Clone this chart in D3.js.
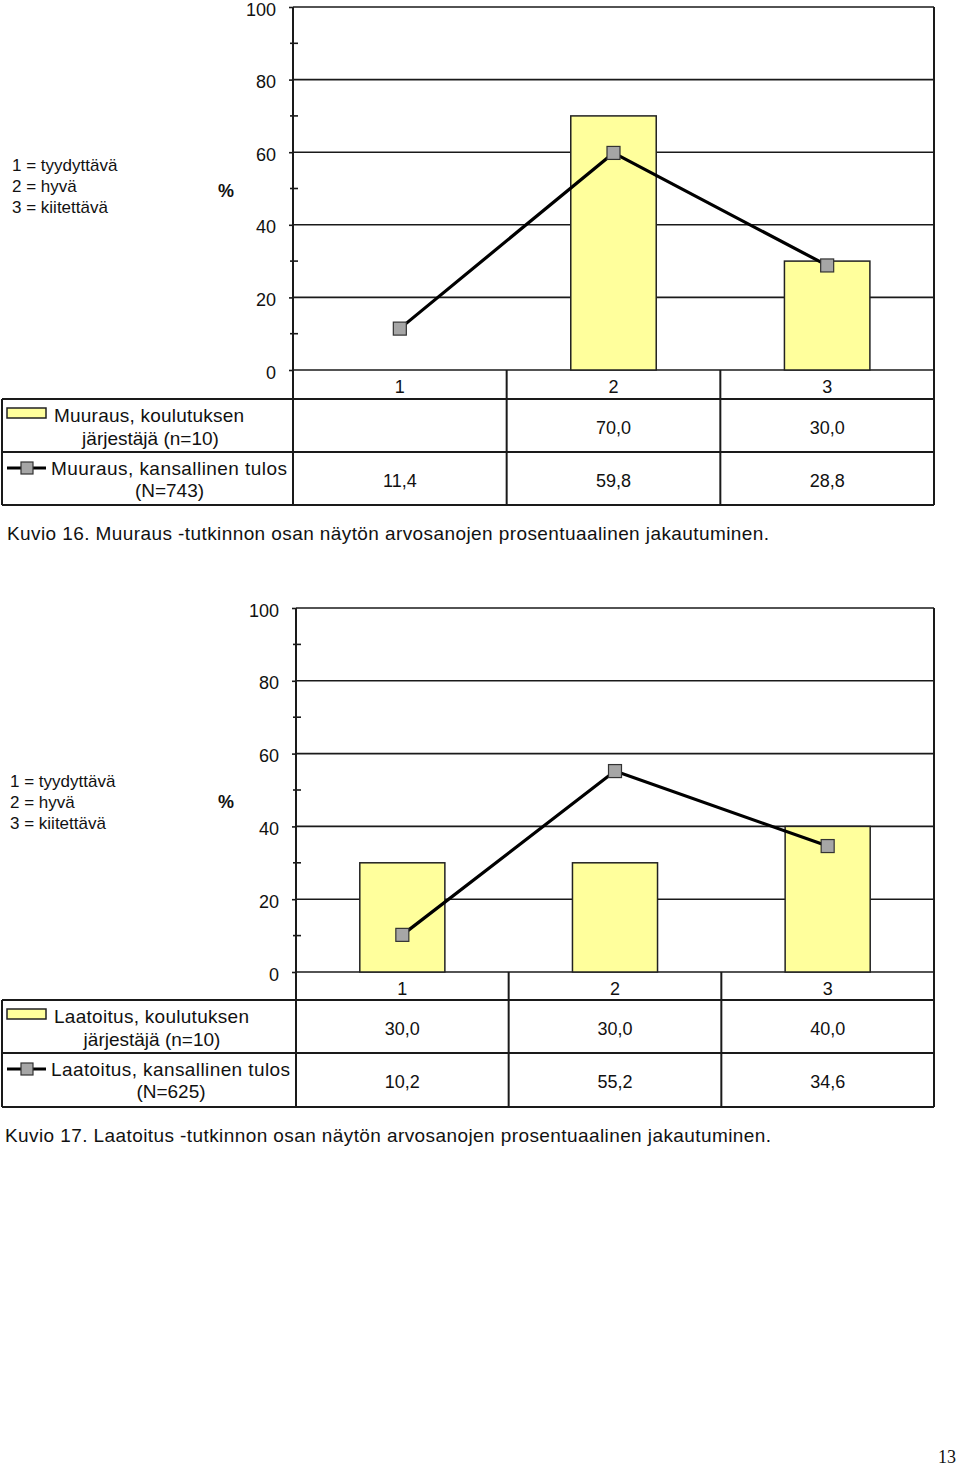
<!DOCTYPE html>
<html>
<head>
<meta charset="utf-8">
<script src="https://cdn.jsdelivr.net/npm/d3@7"></script>
<style>
  body { margin: 0; background: #fff; }
  svg { display: block; }
  text { font-family: "Liberation Sans", Arial, sans-serif; fill: #111; }
</style>
</head>
<body>
<div id="graph"></div>
<script>
WIDTH = 960;
HEIGHT = 1466;

// data
var categories = ["1", "2", "3"];
var yTicks = [0, 20, 40, 60, 80, 100];
var minorTicks = [10, 30, 50, 70, 90];
var gradeNotes = ["1 = tyydyttävä", "2 = hyvä", "3 = kiitettävä"];

var muurausProvider = [null, 70.0, 30.0];
var muurausNational = [11.4, 59.8, 28.8];
var muurausLegend = [["Muuraus, koulutuksen", "järjestäjä (n=10)"], ["Muuraus, kansallinen tulos", "(N=743)"]];
var muurausCaption = "Kuvio 16. Muuraus -tutkinnon osan näytön arvosanojen prosentuaalinen jakautuminen.";

var laatoitusProvider = [30.0, 30.0, 40.0];
var laatoitusNational = [10.2, 55.2, 34.6];
var laatoitusLegend = [["Laatoitus, koulutuksen", "järjestäjä (n=10)"], ["Laatoitus, kansallinen tulos", "(N=625)"]];
var laatoitusCaption = "Kuvio 17. Laatoitus -tutkinnon osan näytön arvosanojen prosentuaalinen jakautuminen.";

var svg = d3.select("#graph").append("svg").attr("width", WIDTH).attr("height", HEIGHT);

function fmt(v) { return v == null ? "" : v.toFixed(1).replace(".", ","); }

function drawChart(cfg) {
	var g = svg.append("g");
	var right = 934, left = 2;

	var y = d3.scaleLinear().domain([0, 100]).range([cfg.bottom, cfg.top]);
	var x = d3.scaleBand().domain(categories).range([cfg.axisX, right]);
	var barW = x.bandwidth() * 0.4;

	// gridlines
	g.append("g").selectAll("line").data(yTicks).enter().append("line")
		.attr("x1", cfg.axisX).attr("x2", right)
		.attr("y1", function(d) { return y(d); }).attr("y2", function(d) { return y(d); })
		.attr("stroke", "#1a1a1a").attr("stroke-width", 1.6);

	// y axis labels and major ticks
	var ax = g.append("g").attr("transform", "translate(" + cfg.axisX + ",0)")
		.call(d3.axisLeft(y).tickValues(yTicks).tickSize(4).tickPadding(13));
	ax.select(".domain").remove();
	ax.selectAll("line").attr("stroke", "#1a1a1a").attr("stroke-width", 1.6);
	ax.selectAll("text").style("font-size", "18px").attr("fill", "#111").attr("dy", "0.45em");

	// minor ticks across the axis
	g.append("g").selectAll("line").data(minorTicks).enter().append("line")
		.attr("x1", cfg.axisX - 3).attr("x2", cfg.axisX + 5)
		.attr("y1", function(d) { return y(d); }).attr("y2", function(d) { return y(d); })
		.attr("stroke", "#1a1a1a").attr("stroke-width", 1.6);

	// bars
	var bars = cfg.provider.map(function(v, i) { return { c: categories[i], v: v }; })
		.filter(function(d) { return d.v != null; });
	g.append("g").selectAll("rect").data(bars).enter().append("rect")
		.attr("x", function(d) { return x(d.c) + (x.bandwidth() - barW) / 2; })
		.attr("y", function(d) { return y(d.v); })
		.attr("width", barW)
		.attr("height", function(d) { return y(0) - y(d.v); })
		.attr("fill", "#ffff9c").attr("stroke", "#222").attr("stroke-width", 1.5);

	// national line
	var pts = cfg.national.map(function(v, i) { return { c: categories[i], v: v }; });
	var line = d3.line()
		.x(function(d) { return x(d.c) + x.bandwidth() / 2; })
		.y(function(d) { return y(d.v); });
	g.append("path").datum(pts).attr("d", line)
		.attr("fill", "none").attr("stroke", "#000").attr("stroke-width", 3.2);
	g.append("g").selectAll("rect").data(pts).enter().append("rect")
		.attr("x", function(d) { return x(d.c) + x.bandwidth() / 2 - 6.5; })
		.attr("y", function(d) { return y(d.v) - 6.5; })
		.attr("width", 13).attr("height", 13)
		.attr("fill", "#a6a6a6").attr("stroke", "#333").attr("stroke-width", 1.2);

	// data table
	var t = g.append("g").attr("stroke", "#1a1a1a").attr("stroke-width", 2);
	[cfg.headerBottom, cfg.row1Bottom, cfg.row2Bottom].forEach(function(yy) {
		t.append("line").attr("x1", left).attr("x2", right).attr("y1", yy).attr("y2", yy);
	});
	t.append("line").attr("x1", left).attr("x2", left).attr("y1", cfg.headerBottom).attr("y2", cfg.row2Bottom);
	t.append("line").attr("x1", cfg.axisX).attr("x2", cfg.axisX).attr("y1", cfg.top).attr("y2", cfg.row2Bottom);
	t.append("line").attr("x1", right).attr("x2", right).attr("y1", cfg.top).attr("y2", cfg.row2Bottom);
	categories.slice(1).forEach(function(c) {
		t.append("line").attr("x1", x(c)).attr("x2", x(c)).attr("y1", cfg.bottom).attr("y2", cfg.row2Bottom);
	});

	// header labels
	g.append("g").selectAll("text").data(categories).enter().append("text")
		.attr("x", function(d) { return x(d) + x.bandwidth() / 2; })
		.attr("y", cfg.bottom + 23)
		.attr("text-anchor", "middle").style("font-size", "18px")
		.text(function(d) { return d; });

	// table values
	[[cfg.provider, cfg.headerBottom], [cfg.national, cfg.row1Bottom]].forEach(function(r) {
		g.append("g").selectAll("text").data(r[0]).enter().append("text")
			.attr("x", function(d, i) { return x(categories[i]) + x.bandwidth() / 2; })
			.attr("y", r[1] + 35)
			.attr("text-anchor", "middle").style("font-size", "18px")
			.text(function(d) { return fmt(d); });
	});

	// legend cells
	var lg = g.append("g");
	lg.append("rect").attr("x", 7).attr("y", cfg.headerBottom + 9).attr("width", 39).attr("height", 10)
		.attr("fill", "#ffff9c").attr("stroke", "#222").attr("stroke-width", 1.5);
	lg.append("line").attr("x1", 7).attr("x2", 46)
		.attr("y1", cfg.row1Bottom + 16).attr("y2", cfg.row1Bottom + 16)
		.attr("stroke", "#000").attr("stroke-width", 3);
	lg.append("rect").attr("x", 21).attr("y", cfg.row1Bottom + 10).attr("width", 12).attr("height", 12)
		.attr("fill", "#a6a6a6").attr("stroke", "#333").attr("stroke-width", 1.2);

	var mid = (left + cfg.axisX) / 2;
	lg.append("text").attr("x", 54).attr("y", cfg.headerBottom + 23).style("font-size", "19px")
		.attr("textLength", cfg.legendW[0]).attr("lengthAdjust", "spacing").text(cfg.legend[0][0]);
	lg.append("text").attr("x", mid + 3).attr("y", cfg.headerBottom + 46).attr("text-anchor", "middle").style("font-size", "19px").text(cfg.legend[0][1]);
	lg.append("text").attr("x", 51).attr("y", cfg.row1Bottom + 23).style("font-size", "19px")
		.attr("textLength", cfg.legendW[1]).attr("lengthAdjust", "spacing").text(cfg.legend[1][0]);
	lg.append("text").attr("x", mid + 22).attr("y", cfg.row1Bottom + 45).attr("text-anchor", "middle").style("font-size", "19px").text(cfg.legend[1][1]);

	// grade notes and % label
	g.append("g").selectAll("text").data(gradeNotes).enter().append("text")
		.attr("x", cfg.noteX)
		.attr("y", function(d, i) { return cfg.noteY + i * 21; })
		.style("font-size", "17px")
		.text(function(d) { return d; });
	g.append("text").attr("x", 218).attr("y", cfg.percentY)
		.style("font-size", "18px").style("font-weight", "bold").text("%");

	// caption
	g.append("text").attr("x", cfg.captionX).attr("y", cfg.row2Bottom + 35)
		.style("font-size", "19px")
		.attr("textLength", cfg.captionW).attr("lengthAdjust", "spacing")
		.text(cfg.caption);
}

drawChart({
	axisX: 293, top: 7, bottom: 370, headerBottom: 399, row1Bottom: 452, row2Bottom: 505,
	provider: muurausProvider, national: muurausNational, legend: muurausLegend, legendW: [190, 236],
	noteX: 12, noteY: 171, percentY: 197, captionX: 7, captionW: 762, caption: muurausCaption
});

drawChart({
	axisX: 296, top: 608, bottom: 972, headerBottom: 1000, row1Bottom: 1053, row2Bottom: 1107,
	provider: laatoitusProvider, national: laatoitusNational, legend: laatoitusLegend, legendW: [195, 239],
	noteX: 10, noteY: 787, percentY: 808, captionX: 5, captionW: 766, caption: laatoitusCaption
});

// page number
svg.append("text").attr("x", 956).attr("y", 1463).attr("text-anchor", "end")
	.style("font-family", "'Liberation Serif', 'Times New Roman', serif").style("font-size", "18px")
	.text("13");
</script>
</body>
</html>
